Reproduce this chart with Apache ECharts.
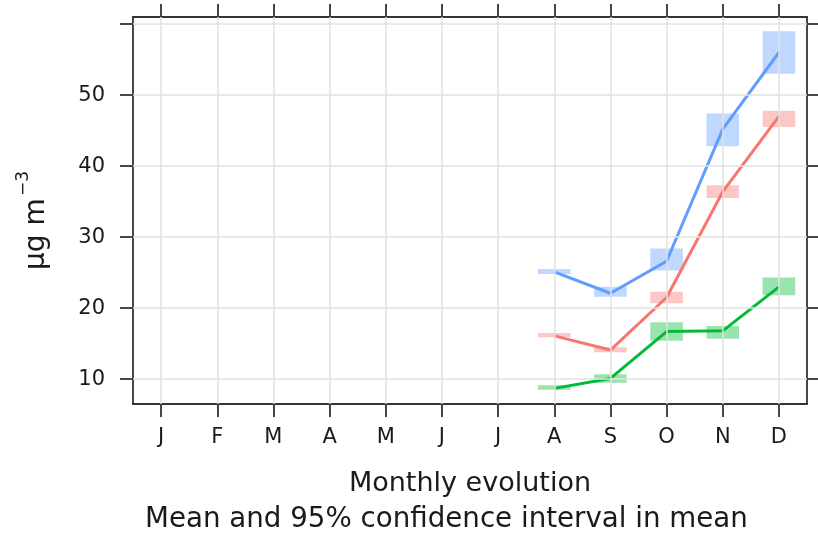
<!DOCTYPE html>
<html>
<head>
<meta charset="utf-8">
<script src="https://cdn.jsdelivr.net/npm/echarts@6/dist/echarts.min.js"></script>
<style>html,body{margin:0;padding:0;background:#fff;}#chart{width:818px;height:537px;}</style>
</head>
<body>
<div id="chart"></div>
<script>
// Categories (months)
var months = ['J','F','M','A','M','J','J','A','S','O','N','D'];
// Y tick values
var yTicks = [10, 20, 30, 40, 50, 60];
var yLabels = [10, 20, 30, 40, 50];

// Blue series: mean and 95% CI
var blueMean  = [null,null,null,null,null,null,null,25.1,22.1,26.6,45.2,56.0];
var blueLower = [null,null,null,null,null,null,null,24.8,21.6,25.3,42.8,53.0];
var blueUpper = [null,null,null,null,null,null,null,25.5,23.0,28.4,47.4,59.0];
// Red series
var redMean  = [null,null,null,null,null,null,null,16.1,14.1,21.5,36.4,47.0];
var redLower = [null,null,null,null,null,null,null,15.9,13.8,20.7,35.5,45.5];
var redUpper = [null,null,null,null,null,null,null,16.5,14.5,22.3,37.3,47.8];
// Green series
var greenMean  = [null,null,null,null,null,null,null,8.7,10.1,16.7,16.8,23.0];
var greenLower = [null,null,null,null,null,null,null,8.5,9.5,15.4,15.7,21.8];
var greenUpper = [null,null,null,null,null,null,null,9.15,10.7,18.0,17.5,24.3];

var blueColor = '#619CFF', redColor = '#F8766D', greenColor = '#00BA38';
var FONT = 'DejaVu Sans';

function ciData(lower, upper) {
  var out = [];
  for (var i = 0; i < lower.length; i++) {
    if (lower[i] != null) out.push([i, lower[i], upper[i]]);
  }
  return out;
}
function ciSeries(lower, upper, color) {
  return {
    type: 'custom', z: 3, silent: true,
    data: ciData(lower, upper),
    encode: {x: 0, y: [1, 2]},
    renderItem: function (params, api) {
      var x = api.value(0);
      var p1 = api.coord([x, api.value(2)]);
      var p2 = api.coord([x, api.value(1)]);
      var w = api.size([1, 0])[0] * 0.58;
      return {
        type: 'rect',
        shape: {x: p1[0] - w / 2, y: p1[1], width: w, height: Math.max(p2[1] - p1[1], 1)},
        style: {fill: color, opacity: 0.4}
      };
    }
  };
}
function lineSeries(data, color) {
  return {
    type: 'line', z: 4, silent: true, data: data, symbol: 'none',
    lineStyle: {color: color, width: 3}
  };
}

var gridLineStyle = {color: '#e2e2e2', width: 1.5, type: 'solid'};
var axisLineStyle = {color: '#333', width: 1.8};

var chart = echarts.init(document.getElementById('chart'));
chart.setOption({
  animation: false,
  backgroundColor: '#fff',
  grid: {left: 133, top: 17, right: 11, bottom: 133, containLabel: false},
  xAxis: [{
    type: 'category', data: months, position: 'bottom', boundaryGap: true,
    axisLine: {show: true, lineStyle: axisLineStyle},
    axisTick: {show: true, alignWithLabel: true, length: 13, lineStyle: axisLineStyle},
    axisLabel: {margin: 23, fontFamily: FONT, fontSize: 21, color: '#1a1a1a', interval: 0},
    splitLine: {show: false}
  }, {
    type: 'category', data: months, position: 'top', boundaryGap: true,
    axisLine: {show: true, lineStyle: axisLineStyle},
    axisTick: {show: true, alignWithLabel: true, length: 13, lineStyle: axisLineStyle},
    axisLabel: {show: false},
    splitLine: {show: false}
  }],
  yAxis: [{
    type: 'value', min: 6.5, max: 61, position: 'left',
    axisLine: {show: true, lineStyle: axisLineStyle},
    axisTick: {show: true, length: 13, lineStyle: axisLineStyle, customValues: yTicks},
    axisLabel: {margin: 28, fontFamily: FONT, fontSize: 21, color: '#1a1a1a', customValues: yLabels},
    splitLine: {show: false}
  }, {
    type: 'value', min: 6.5, max: 61, position: 'right',
    axisLine: {show: true, lineStyle: axisLineStyle},
    axisTick: {show: true, length: 13, lineStyle: axisLineStyle, customValues: yTicks},
    axisLabel: {show: false},
    splitLine: {show: false}
  }],
  graphic: [{
    type: 'text', x: 37, y: 270, rotation: Math.PI / 2,
    style: {text: 'µg m', fontFamily: FONT, fontSize: 28, fill: '#1a1a1a', align: 'left', verticalAlign: 'middle'}
  }, {
    type: 'text', x: 24, y: 196, rotation: Math.PI / 2,
    style: {text: '−3', fontFamily: FONT, fontSize: 17, fill: '#1a1a1a', align: 'left', verticalAlign: 'middle'}
  }, {
    type: 'text', x: 470, y: 484,
    style: {text: 'Monthly evolution', fontFamily: FONT, fontSize: 27, fill: '#1a1a1a', align: 'center', verticalAlign: 'middle'}
  }, {
    type: 'text', x: 446.5, y: 520,
    style: {text: 'Mean and 95% confidence interval in mean', fontFamily: FONT, fontSize: 27.7, fill: '#1a1a1a', align: 'center', verticalAlign: 'middle'}
  }],
  series: [
    {
      type: 'line', z: 1, silent: true, data: [], symbol: 'none',
      markLine: {
        silent: true, symbol: ['none', 'none'], label: {show: false},
        lineStyle: gridLineStyle,
        data: yTicks.map(function (v) { return {yAxis: v}; })
          .concat(months.map(function (m, i) { return {xAxis: i}; }))
      }
    },
    ciSeries(blueLower, blueUpper, blueColor),
    ciSeries(redLower, redUpper, redColor),
    ciSeries(greenLower, greenUpper, greenColor),
    lineSeries(blueMean, blueColor),
    lineSeries(redMean, redColor),
    lineSeries(greenMean, greenColor)
  ]
});
</script>
</body>
</html>
